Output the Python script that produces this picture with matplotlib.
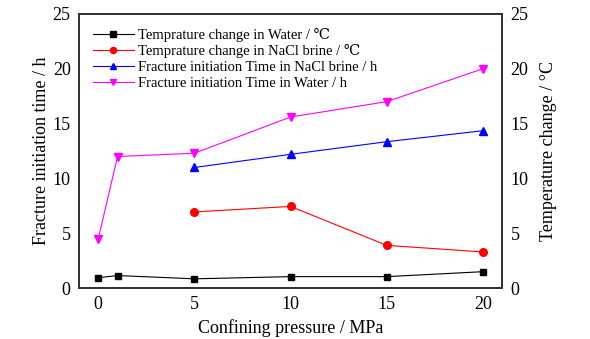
import matplotlib
matplotlib.use("Agg")
import matplotlib.pyplot as plt

plt.rcParams['font.family'] = ['Liberation Serif', 'DejaVu Serif']

pressure = [0, 1, 5, 10, 15, 20]
temp_water = [0.95, 1.15, 0.85, 1.05, 1.05, 1.5]
pressure_brine = [5, 10, 15, 20]
temp_brine = [6.95, 7.45, 3.9, 3.3]
time_brine = [11.0, 12.2, 13.35, 14.35]
time_water = [4.5, 12.0, 12.3, 15.6, 17.0, 20.0]

fig = plt.figure(figsize=(5.9, 3.39), dpi=100)
ax = fig.add_axes([0.134, 0.150, 0.717, 0.809])
ax2 = ax.twinx()

l1, = ax2.plot(pressure, temp_water, color='black', marker='s', ms=5, lw=0.8,
               label='Temprature change in Water / \u2103')
l2, = ax2.plot(pressure_brine, temp_brine, color='red', marker='o', ms=5.5, lw=0.8,
               label='Temprature change in NaCl brine / \u2103')
l3, = ax.plot(pressure_brine, time_brine, color='blue', marker='^', ms=5.5, lw=0.8,
              label='Fracture initiation Time in NaCl brine / h')
l4, = ax.plot(pressure, time_water, color='magenta', marker='v', ms=5.5, lw=0.8,
              label='Fracture initiation Time in Water / h')

for a in (ax, ax2):
    a.set_ylim(0, 25)
    a.set_yticks([0, 5, 10, 15, 20, 25])
    a.tick_params(length=0, labelsize=13, pad=6)
    for s in a.spines.values():
        s.set_linewidth(1.3)
        s.set_color('#333333')
ax.set_xlim(-1, 21)
ax.set_xticks([0, 5, 10, 15, 20])

ax.set_xlabel('Confining pressure / MPa', fontsize=13)
ax.set_ylabel('Fracture initiation time / h', fontsize=13, labelpad=2)
ax2.set_ylabel('Temperature change / \u00b0C', fontsize=13, labelpad=8)

ax.legend(handles=[l1, l2, l3, l4], loc='upper left', frameon=False,
          fontsize=10.5, handlelength=2.8, labelspacing=0.18,
          borderaxespad=0.55, handletextpad=0.3, markerscale=0.8)

fig.savefig('out.png', dpi=100)
